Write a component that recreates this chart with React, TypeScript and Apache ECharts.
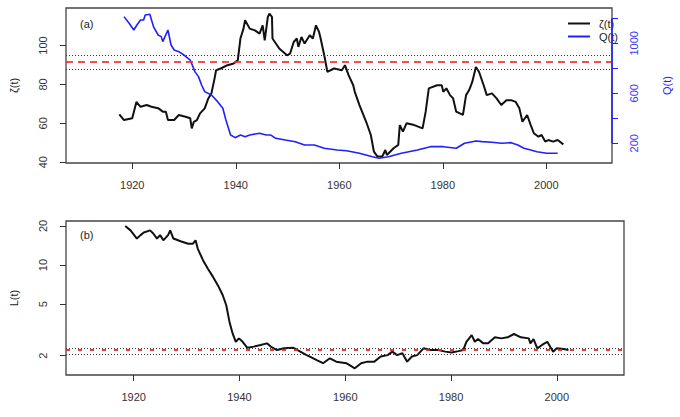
import React, { useEffect, useRef } from "react";
import * as echarts from "echarts";

const FONT = "'Liberation Sans', Arial, sans-serif";

// tick labels
const xTicks = [1920, 1940, 1960, 1980, 2000];
const zetaTicks = [40, 60, 80, 100];
const qTicks = [200, 400, 600, 800, 1000, 1200];
const qLabels = [200, 600, 1000];
const lTicks = [2, 5, 10, 20];

// ζ(t)
const zetaYears = [
  1917.5, 1918.4, 1920.0, 1920.8, 1921.6, 1922.8, 1923.7, 1925.0, 1925.9, 1926.5,
  1926.9, 1928.1, 1929.0, 1930.3, 1931.2, 1931.5, 1931.9, 1932.5, 1933.1, 1934.0,
  1934.7, 1935.3, 1935.9, 1936.2, 1937.1, 1938.4, 1939.6, 1940.4, 1940.9, 1941.5,
  1941.8, 1942.7, 1943.7, 1944.6, 1945.2, 1945.6, 1946.2, 1946.5, 1947.0, 1947.1,
  1948.4, 1949.9, 1950.5, 1951.2, 1951.8, 1952.1, 1952.7, 1953.3, 1954.3, 1954.9,
  1955.5, 1956.1, 1956.4, 1957.1, 1957.7, 1959.0, 1960.5, 1961.1, 1961.8, 1962.7,
  1963.0, 1963.9, 1965.2, 1966.1, 1966.7, 1967.4, 1968.3, 1968.9, 1969.2, 1970.5,
  1971.4, 1971.7, 1972.3, 1973.0, 1974.5, 1976.1, 1976.7, 1977.3, 1978.9, 1979.8,
  1980.1, 1980.7, 1981.4, 1982.0, 1982.6, 1983.9, 1984.5, 1985.1, 1985.7, 1986.4,
  1987.0, 1987.9, 1988.5, 1989.5, 1990.4, 1991.3, 1992.3, 1993.2, 1994.1, 1994.8,
  1995.4, 1996.3, 1997.0, 1997.6, 1998.5, 1999.1, 1999.8, 2000.4, 2001.3, 2002.2,
  2003.3,
];
const zetaValues = [
  64.6, 61.7, 62.6, 71.0, 68.5, 69.4, 68.5, 67.8, 66.0, 66.0,
  61.7, 61.7, 64.3, 63.4, 62.6, 57.4, 60.8, 61.7, 65.1, 67.7,
  72.8, 75.4, 83.0, 87.3, 88.2, 89.9, 90.8, 92.5, 103.6, 108.7,
  113.0, 108.7, 107.8, 106.1, 110.4, 102.7, 114.7, 116.4, 114.7, 103.6,
  98.5, 95.0, 95.9, 101.8, 103.6, 99.3, 104.4, 101.0, 105.3, 103.6,
  110.4, 107.0, 103.6, 95.0, 86.5, 88.2, 87.3, 89.9, 84.8, 79.6,
  76.2, 69.4, 60.8, 54.0, 45.4, 42.9, 42.9, 46.3, 43.7, 47.2,
  48.9, 59.1, 55.7, 60.0, 59.1, 57.4, 66.0, 78.0, 79.6, 79.6,
  76.2, 78.0, 74.5, 72.8, 66.0, 64.3, 74.5, 77.1, 81.3, 89.0,
  86.5, 79.6, 74.5, 75.4, 72.8, 69.4, 71.9, 71.9, 71.0, 67.7,
  60.8, 64.3, 59.1, 54.9, 53.1, 54.0, 50.6, 51.4, 50.6, 51.4,
  49.2,
];

// Q(t)
const qYears = [
  1918.4, 1919.4, 1920.3, 1920.9, 1921.6, 1922.2, 1922.5, 1923.4, 1924.1, 1925.0,
  1925.6, 1925.9, 1926.9, 1927.5, 1928.1, 1929.0, 1930.0, 1931.2, 1932.1, 1932.8,
  1933.4, 1934.0, 1935.3, 1936.5, 1937.5, 1938.1, 1939.0, 1939.9, 1940.9, 1941.8,
  1942.7, 1944.6, 1945.9, 1946.8, 1947.7, 1949.6, 1951.5, 1953.3, 1955.2, 1957.1,
  1959.6, 1961.4, 1963.9, 1966.4, 1967.7, 1969.5, 1972.0, 1975.1, 1977.6, 1980.1,
  1982.6, 1984.2, 1985.7, 1986.4, 1987.6, 1989.5, 1991.3, 1993.2, 1994.5, 1995.7,
  1997.0, 1998.2, 2000.1, 2002.2,
];
const qValues = [
  1213, 1160, 1106, 1146, 1186, 1186, 1226, 1232, 1133, 1066,
  1053, 1013, 1106, 986, 946, 933, 906, 866, 773, 733,
  666, 613, 586, 533, 480, 386, 266, 245, 266, 253,
  266, 280, 266, 266, 240, 226, 213, 186, 186, 160,
  146, 140, 120, 93, 80, 93, 120, 146, 173, 173,
  160, 200, 213, 218, 213, 208, 200, 205, 186, 160,
  146, 133, 120, 120,
];

// L(t)
const lYears = [
  1918.4, 1919.4, 1920.6, 1921.3, 1921.9, 1923.1, 1923.7, 1924.4, 1925.0, 1925.6,
  1926.5, 1926.9, 1927.5, 1929.0, 1930.3, 1931.2, 1931.7, 1932.1, 1933.1, 1934.0,
  1935.0, 1935.9, 1936.8, 1937.5, 1938.1, 1938.7, 1939.3, 1939.9, 1940.6, 1941.5,
  1942.7, 1944.0, 1945.2, 1945.9, 1947.1, 1948.4, 1950.2, 1951.5, 1952.7, 1953.3,
  1954.6, 1955.8, 1957.1, 1958.3, 1960.2, 1961.8, 1963.0, 1964.2, 1965.5, 1966.7,
  1968.0, 1968.9, 1969.8, 1970.8, 1971.7, 1972.6, 1973.6, 1974.8, 1976.1, 1977.6,
  1978.9, 1980.1, 1981.4, 1982.3, 1982.9, 1983.9, 1984.5, 1985.1, 1986.1, 1987.0,
  1988.3, 1989.5, 1990.7, 1991.9, 1993.2, 1994.7, 1995.0, 1995.6, 1996.3, 1997.2,
  1998.2, 1998.8, 1999.3, 2000.0, 2001.3, 2002.2,
];
const lValues = [
  20, 18.5, 16, 17, 17.8, 18.5, 17.5, 16, 17, 15.5,
  17, 18.5, 16, 15.2, 14.6, 14.6, 15.5, 13.4, 10.9, 9.4,
  8.1, 7.0, 5.9, 4.9, 3.66, 2.97, 2.56, 2.72, 2.56, 2.30,
  2.35, 2.42, 2.49, 2.35, 2.21, 2.28, 2.30, 2.15, 2.02, 1.97,
  1.85, 1.75, 1.91, 1.80, 1.75, 1.60, 1.75, 1.80, 1.80, 1.97,
  2.02, 2.15, 2.02, 2.09, 1.80, 1.97, 2.02, 2.28, 2.21, 2.21,
  2.15, 2.12, 2.17, 2.21, 2.56, 2.88, 2.56, 2.69, 2.49, 2.49,
  2.77, 2.72, 2.77, 2.94, 2.77, 2.72, 2.49, 2.68, 2.28, 2.42,
  2.56, 2.32, 2.15, 2.28, 2.25, 2.21,
];

// reference levels
const zetaBand = [87.9, 95.2];
const zetaRef = 91.5;
const lBand = [2.06, 2.3];
const lRef = 2.21;

const X_MIN = 1907.2;
const X_MAX = 2012.7;

const tickStyle = { color: "#333", width: 1 };
const labelStyle = { color: "#333", fontSize: 11, fontFamily: FONT };
const plain = (v: number) => String(v);

export default function App() {
  const ref = useRef<HTMLDivElement>(null);
  useEffect(() => {
    const chart = echarts.init(ref.current!, null, { renderer: "svg" });
    const dotted = { color: "#333", width: 1, type: [1, 2] as any };
    const xAxisBase = (gridIndex: number) => ({
      gridIndex,
      type: "value",
      min: X_MIN,
      max: X_MAX,
      axisLine: { show: false, onZero: false },
      axisTick: { show: true, customValues: xTicks, length: 6, lineStyle: tickStyle },
      axisLabel: { customValues: xTicks, margin: 16, formatter: plain, ...labelStyle },
      splitLine: { show: false },
    });
    const option: any = {
      animation: false,
      textStyle: { fontFamily: FONT },
      grid: [
        { left: 60, right: 56, top: 8, height: 155, show: true, borderColor: "#444", borderWidth: 1.3, backgroundColor: "transparent" },
        { left: 60, right: 56, top: 221, height: 154, show: true, borderColor: "#444", borderWidth: 1.3, backgroundColor: "transparent" },
      ],
      legend: {
        left: 563,
        top: 13,
        orient: "vertical",
        icon: "rect",
        itemWidth: 22,
        itemHeight: 2,
        itemGap: 2,
        textStyle: { ...labelStyle, color: "#222", padding: [0, 0, 0, 4] },
        data: ["ζ(t)", "Q(t)"],
      },
      xAxis: [xAxisBase(0), xAxisBase(1)],
      yAxis: [
        {
          gridIndex: 0,
          type: "value",
          min: 39.6,
          max: 119.3,
          name: "ζ(t)",
          nameLocation: "middle",
          nameGap: 47,
          nameRotate: 90,
          nameTextStyle: { ...labelStyle, color: "#222" },
          axisLine: { show: false },
          axisTick: { show: true, customValues: zetaTicks, length: 6, lineStyle: tickStyle },
          axisLabel: { customValues: zetaTicks, rotate: 90, margin: 18, formatter: plain, ...labelStyle },
          splitLine: { show: false },
        },
        {
          gridIndex: 0,
          type: "value",
          position: "right",
          min: 42.4,
          max: 1282,
          name: "Q(t)",
          nameLocation: "middle",
          nameGap: 49,
          nameRotate: 90,
          nameTextStyle: { ...labelStyle, color: "#2020ff" },
          axisLine: { show: false },
          axisTick: { show: true, customValues: qTicks, length: 6, lineStyle: { color: "#2020ff", width: 1 } },
          axisLabel: { customValues: qLabels, rotate: 90, margin: 16, formatter: plain, ...labelStyle, color: "#3a3aff" },
          splitLine: { show: false },
        },
        {
          gridIndex: 1,
          type: "log",
          logBase: 10,
          min: 1.42,
          max: 21.85,
          name: "L(t)",
          nameLocation: "middle",
          nameGap: 47,
          nameRotate: 90,
          nameTextStyle: { ...labelStyle, color: "#222" },
          axisLine: { show: false },
          axisTick: { show: true, customValues: lTicks, length: 6, lineStyle: tickStyle },
          axisLabel: { customValues: lTicks, rotate: 90, margin: 18, formatter: plain, ...labelStyle },
          splitLine: { show: false },
        },
      ],
      series: [
        {
          name: "ζ(t)",
          type: "line",
          xAxisIndex: 0,
          yAxisIndex: 0,
          symbol: "none",
          showSymbol: false,
          lineStyle: { color: "#111", width: 2 },
          itemStyle: { color: "#111" },
          data: zetaYears.map((y, i) => [y, zetaValues[i]]),
          markLine: {
            silent: true,
            symbol: "none",
            label: { show: false },
            data: [
              { yAxis: zetaBand[1], lineStyle: dotted },
              { yAxis: zetaBand[0], lineStyle: dotted },
              { yAxis: zetaRef, lineStyle: { color: "rgba(240,50,50,0.85)", width: 2, type: [7, 5] } },
            ],
          },
        },
        {
          name: "Q(t)",
          type: "line",
          xAxisIndex: 0,
          yAxisIndex: 1,
          symbol: "none",
          showSymbol: false,
          lineStyle: { color: "#2020ff", width: 1.6 },
          itemStyle: { color: "#2020ff" },
          data: qYears.map((y, i) => [y, qValues[i]]),
          markLine: {
            silent: true,
            symbol: "none",
            label: { show: false },
            data: [
              [
                { coord: [X_MAX, qTicks[0]] },
                { coord: [X_MAX, qTicks[qTicks.length - 1]] },
              ],
            ],
            lineStyle: { color: "#2020ff", width: 1.5, type: "solid" },
          },
        },
        {
          name: "L(t)",
          type: "line",
          xAxisIndex: 1,
          yAxisIndex: 2,
          symbol: "none",
          showSymbol: false,
          lineStyle: { color: "#111", width: 2 },
          data: lYears.map((y, i) => [y, lValues[i]]),
          markLine: {
            silent: true,
            symbol: "none",
            label: { show: false },
            data: [
              { yAxis: lBand[1], lineStyle: dotted },
              { yAxis: lBand[0], lineStyle: dotted },
              { yAxis: lRef, lineStyle: { color: "rgba(240,30,30,0.9)", width: 2, type: [4, 8] } },
            ],
          },
        },
      ],
      graphic: [
        { type: "text", left: 80, top: 18, style: { text: "(a)", fill: "#222", font: `11px ${FONT}` } },
        { type: "text", left: 80, top: 229, style: { text: "(b)", fill: "#222", font: `11px ${FONT}` } },
      ],
    };
    chart.setOption(option);
    return () => chart.dispose();
  }, []);
  return (
    <div
      ref={ref}
      style={{ position: "absolute", left: 0, top: 0, width: 680, height: 417, background: "#fff" }}
    />
  );
}
